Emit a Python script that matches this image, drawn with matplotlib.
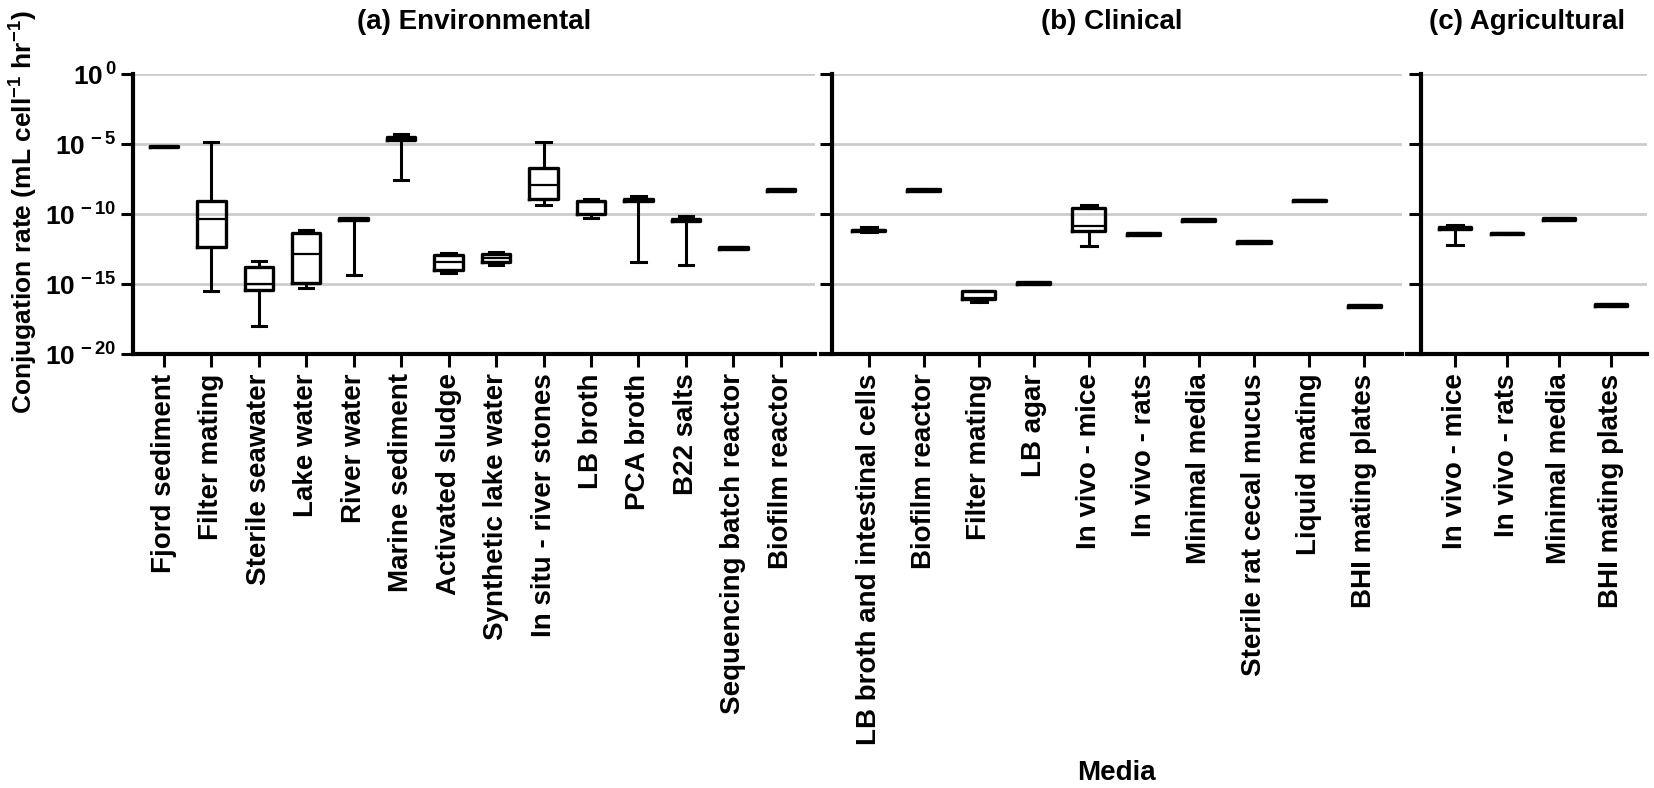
import numpy as np
import matplotlib
matplotlib.use('Agg')
import matplotlib.pyplot as plt
import matplotlib as mpl

params = {
    'font.family': 'Liberation Sans',
    'font.weight': 'bold',
    'mathtext.fontset': 'custom',
    'mathtext.rm': 'Liberation Sans:bold',
    'mathtext.bf': 'Liberation Sans:bold',
    'mathtext.it': 'Liberation Sans:bold',
}
mpl.rcParams.update(params)

# log10 conjugation rates: whisker low, Q1, median, Q3, whisker high
env_labels = ['Fjord sediment', 'Filter mating', 'Sterile seawater', 'Lake water',
              'River water', 'Marine sediment', 'Activated sludge',
              'Synthetic lake water', 'In situ - river stones', 'LB broth',
              'PCA broth', 'B22 salts', 'Sequencing batch reactor', 'Biofilm reactor']
env_lo = [-5.24, -15.53, -17.99, -15.32, -14.37, -7.59, -14.18, -13.66, -9.36, -10.31, -13.43, -13.66, -12.49, -8.36]
env_q1 = [-5.24, -12.36, -15.41, -14.92, -10.43, -4.68, -14.02, -13.43, -8.94, -10.00, -9.10, -10.48, -12.49, -8.36]
env_med = [-5.18, -10.35, -14.99, -12.88, -10.37, -4.60, -13.43, -13.14, -7.94, -9.15, -9.03, -10.42, -12.43, -8.30]
env_q3 = [-5.12, -9.05, -13.80, -11.35, -10.31, -4.52, -12.95, -12.84, -6.74, -9.05, -8.96, -10.36, -12.37, -8.24]
env_hi = [-5.12, -4.85, -13.38, -11.16, -10.31, -4.30, -12.79, -12.72, -4.89, -8.93, -8.72, -10.15, -12.37, -8.24]

clin_labels = ['LB broth and intestinal cells', 'Biofilm reactor', 'Filter mating',
               'LB agar', 'In vivo - mice', 'In vivo - rats', 'Minimal media',
               'Sterile rat cecal mucus', 'Liquid mating', 'BHI mating plates']
clin_lo = [-11.32, -8.34, -16.32, -15.00, -12.29, -11.50, -10.49, -12.04, -9.09, -16.62]
clin_q1 = [-11.23, -8.34, -16.10, -15.00, -11.20, -11.50, -10.49, -12.04, -9.09, -16.62]
clin_med = [-11.17, -8.28, -16.02, -14.94, -10.85, -11.44, -10.43, -11.98, -9.03, -16.56]
clin_q3 = [-11.11, -8.22, -15.47, -14.88, -9.57, -11.38, -10.37, -11.92, -8.97, -16.50]
clin_hi = [-10.95, -8.22, -15.47, -14.88, -9.38, -11.38, -10.37, -11.92, -8.97, -16.50]

agri_labels = ['In vivo - mice', 'In vivo - rats', 'Minimal media', 'BHI mating plates']
agri_lo = [-12.24, -11.45, -10.44, -16.55]
agri_q1 = [-11.07, -11.45, -10.44, -16.55]
agri_med = [-11.01, -11.39, -10.38, -16.49]
agri_q3 = [-10.95, -11.33, -10.32, -16.43]
agri_hi = [-10.75, -11.33, -10.32, -16.43]

titles = ['(a) Environmental', '(b) Clinical', '(c) Agricultural']
decades = [0, -5, -10, -15, -20]

W, H = 1654, 788
fig = plt.figure(figsize=(W / 100, H / 100), dpi=100)

# pixel layout of the three panels: (left, right), x-limits, y-spine position
panels = [
    (133, 815, (-0.65, 13.72), -0.65),
    (821, 1402, (-0.87, 9.69), -0.67),
    (1407, 1647, (-0.92, 3.69), -0.65),
]
top_px, bot_px = 74, 354

data = [
    (env_labels, env_lo, env_q1, env_med, env_q3, env_hi),
    (clin_labels, clin_lo, clin_q1, clin_med, clin_q3, clin_hi),
    (agri_labels, agri_lo, agri_q1, agri_med, agri_q3, agri_hi),
]


def fmt(v, pos):
    e = int(round(np.log10(v)))
    return r'$\mathbf{10^{\,%d}}$' % e


for i, ((l, r, xlim, spine_x), (labels, lo, q1, med, q3, hi)) in enumerate(zip(panels, data)):
    ax = fig.add_axes([l / W, 1 - bot_px / H, (r - l) / W, (bot_px - top_px) / H])
    stats = []
    for k in range(len(labels)):
        stats.append({'whislo': 10 ** lo[k], 'q1': 10 ** q1[k], 'med': 10 ** med[k],
                      'q3': 10 ** q3[k], 'whishi': 10 ** hi[k], 'fliers': []})
    ax.bxp(stats, positions=np.arange(len(labels)), widths=0.6, capwidths=0.3,
           showfliers=False, manage_ticks=False,
           boxprops=dict(color='black', lw=2.4),
           whiskerprops=dict(color='black', lw=2.2),
           capprops=dict(color='black', lw=2.2),
           medianprops=dict(color='black', lw=1.6))
    ax.set_yscale('log')
    ax.set_ylim(1e-20, 1e0)
    ax.set_xlim(*xlim)
    ax.set_yticks([10.0 ** d for d in decades])
    ax.yaxis.set_minor_locator(mpl.ticker.NullLocator())
    ax.yaxis.set_major_formatter(mpl.ticker.FuncFormatter(fmt))
    ax.set_xticks(np.arange(len(labels)))
    ax.set_xticklabels(labels, rotation=90, fontsize=20, fontweight='bold')
    ax.tick_params(axis='both', direction='out', length=9, width=2.2, color='black')
    ax.tick_params(axis='y', labelsize=19, pad=3)
    ax.tick_params(axis='x', pad=5)
    if i > 0:
        ax.tick_params(axis='y', labelleft=False)
        ax.spines['left'].set_position(('data', spine_x))
    xmin = (spine_x - xlim[0]) / (xlim[1] - xlim[0])
    for d in decades[:-1]:
        ax.axhline(10.0 ** d, xmin=xmin, xmax=1, color='#cccccc', lw=2, zorder=0)
    for s in ['top', 'right']:
        ax.spines[s].set_visible(False)
    for s in ['left', 'bottom']:
        ax.spines[s].set_linewidth(3)
    ax.text(0.5, 1 + (top_px - 22) / (bot_px - top_px), titles[i], transform=ax.transAxes,
            ha='center', va='center', fontsize=20, fontweight='bold')

fig.text(24 / W, 1 - 212 / H, r'Conjugation rate (mL cell$^{-1}$ hr$^{-1}$)',
         rotation=90, ha='center', va='center', fontsize=19, fontweight='bold')
fig.text(1116 / W, 1 - 773 / H, 'Media', ha='center', va='center', fontsize=20,
         fontweight='bold')

fig.savefig('out.png', dpi=100)
